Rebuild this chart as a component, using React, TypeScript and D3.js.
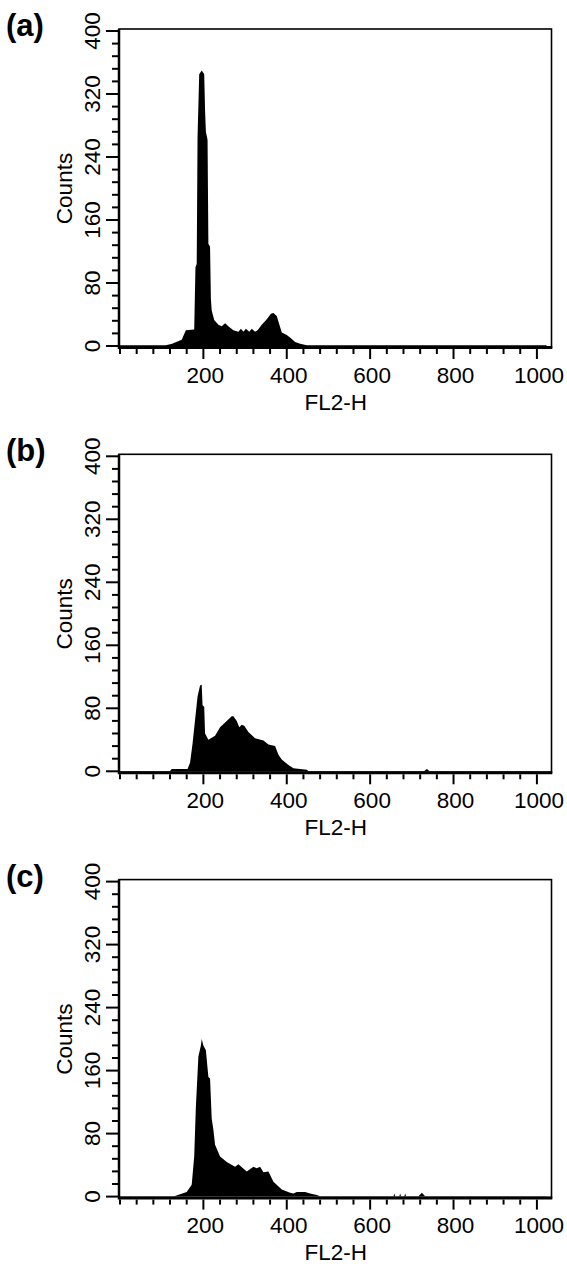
import React from 'react'
import * as d3 from 'd3'

// panel letters
const panelLabels = ['(a)', '(b)', '(c)']

// histogram outlines: channel (FL2-H) and counts
const channelsA = [0, 110, 125, 148, 158, 178, 181, 184, 186, 190, 196, 202, 204, 206, 210, 212, 216, 218, 220, 226, 236, 244, 252, 262, 272, 284, 290, 296, 302, 310, 316, 324, 330, 340, 352, 362, 368, 376, 388, 400, 410, 420, 432, 448, 1023]
const countsA = [1, 1, 3, 8, 20, 21, 100, 104, 265, 345, 350, 345, 300, 272, 262, 130, 126, 60, 45, 33, 27, 25, 29, 24, 20, 18, 22, 18, 22, 18, 22, 18, 20, 27, 34, 41, 42, 38, 17, 14, 10, 5, 3, 1, 1]

const channelsB = [0, 120, 124, 162, 168, 174, 180, 186, 192, 196, 198, 202, 204, 212, 228, 240, 256, 268, 272, 280, 286, 292, 298, 308, 324, 344, 356, 372, 380, 388, 404, 416, 432, 448, 452, 730, 736, 742, 1023]
const countsB = [0.5, 0.5, 3, 3, 11, 35, 65, 95, 109, 110, 84, 82, 48, 40, 45, 56, 64, 70, 70, 64, 56, 59, 58, 50, 42, 39, 34, 32, 21, 15, 8, 4, 3, 2, 0.5, 0.5, 3, 0.5, 0.5]

const channelsC = [0, 130, 144, 160, 172, 178, 182, 188, 194, 196, 200, 206, 212, 216, 220, 224, 228, 240, 256, 276, 284, 304, 320, 328, 336, 344, 356, 368, 388, 408, 416, 424, 444, 456, 472, 480, 656, 658, 660, 670, 672, 674, 682, 684, 686, 716, 724, 732, 1023]
const countsC = [0.5, 0.5, 3, 6, 15, 51, 114, 178, 192, 200, 192, 186, 152, 150, 99, 85, 66, 51, 44, 38, 41, 32, 38, 36, 38, 31, 32, 19, 9, 5, 4, 6, 6, 4, 2, 0.5, 0.5, 4, 0.5, 0.5, 4, 0.5, 0.5, 4, 0.5, 0.5, 5, 0.5, 0.5]

// axis ticks
const xTicks = d3.range(0, 1001, 40)
const xTickLabels = [200, 400, 600, 800, 1000]
const yTicks = d3.range(0, 401, 16)
const yTickLabels = [0, 80, 160, 240, 320, 400]

const xLabel = 'FL2-H'
const yLabel = 'Counts'

const series = [
  { channels: channelsA, counts: countsA },
  { channels: channelsB, counts: countsB },
  { channels: channelsC, counts: countsC }
]

const font = '"Liberation Sans", Arial, Helvetica, sans-serif'

function Panel({ idx, channels, counts }) {
  const y0 = 346 + idx * 425.3
  const left = 120
  const right = 551.5

  const x = d3.scaleLinear().domain([0, 1035]).range([left, right])
  const y = d3.scaleLinear().domain([0, 400]).range([y0, y0 - 315])

  const pts = channels.map((c, i) => [c, counts[i]])
  const area = d3
    .area()
    .x(d => x(d[0]))
    .y0(y(0))
    .y1(d => y(d[1]))(pts)

  const top = y(400) - 2

  return (
    <g>
      <text x={6} y={y0 - 310} fontFamily={font} fontWeight="bold" fontSize={31}>
        {panelLabels[idx]}
      </text>

      {/* frame */}
      <rect x={left - 1} y={top} width={right - left + 1} height={y0 - top + 1} fill="none" stroke="#000" strokeWidth={1.6} />

      <path d={area} fill="#000" />

      {/* x axis */}
      <line x1={left - 1} x2={right + 0.8} y1={y0 + 1.5} y2={y0 + 1.5} stroke="#000" strokeWidth={3} />
      {xTicks.map(t => (
        <line
          key={t}
          x1={x(t)}
          x2={x(t)}
          y1={y0 + 3}
          y2={y0 + (t % 200 === 0 && t > 0 ? 13 : 8)}
          stroke="#000"
          strokeWidth={2}
        />
      ))}
      {xTickLabels.map(t => (
        <text key={t} x={x(t) + 2} y={y0 + 36.5} textAnchor="middle" fontFamily={font} fontSize={22.5}>
          {t}
        </text>
      ))}
      <text x={(left + right) / 2} y={y0 + 63.5} textAnchor="middle" fontFamily={font} fontSize={22.5}>
        {xLabel}
      </text>

      {/* y axis */}
      <line x1={left - 1} x2={left - 1} y1={top} y2={y0 + 3} stroke="#000" strokeWidth={2.5} />
      {yTicks.map(t => (
        <line
          key={t}
          x1={left - 1}
          x2={left - (t % 80 === 0 ? 14 : 8)}
          y1={y(t)}
          y2={y(t)}
          stroke="#000"
          strokeWidth={2}
        />
      ))}
      {yTickLabels.map(t => (
        <text
          key={t}
          transform={`translate(100,${y(t)}) rotate(-90)`}
          textAnchor="middle"
          fontFamily={font}
          fontSize={22.5}
        >
          {t}
        </text>
      ))}
      <text
        transform={`translate(72,${y(200)}) rotate(-90)`}
        textAnchor="middle"
        fontFamily={font}
        fontSize={22.5}
      >
        {yLabel}
      </text>
    </g>
  )
}

export default function App() {
  return (
    <svg width={567} height={1266} style={{ position: 'absolute', left: 0, top: 0, background: '#fff' }}>
      <rect width={567} height={1266} fill="#fff" />
      {series.map((s, i) => (
        <Panel key={i} idx={i} channels={s.channels} counts={s.counts} />
      ))}
    </svg>
  )
}
